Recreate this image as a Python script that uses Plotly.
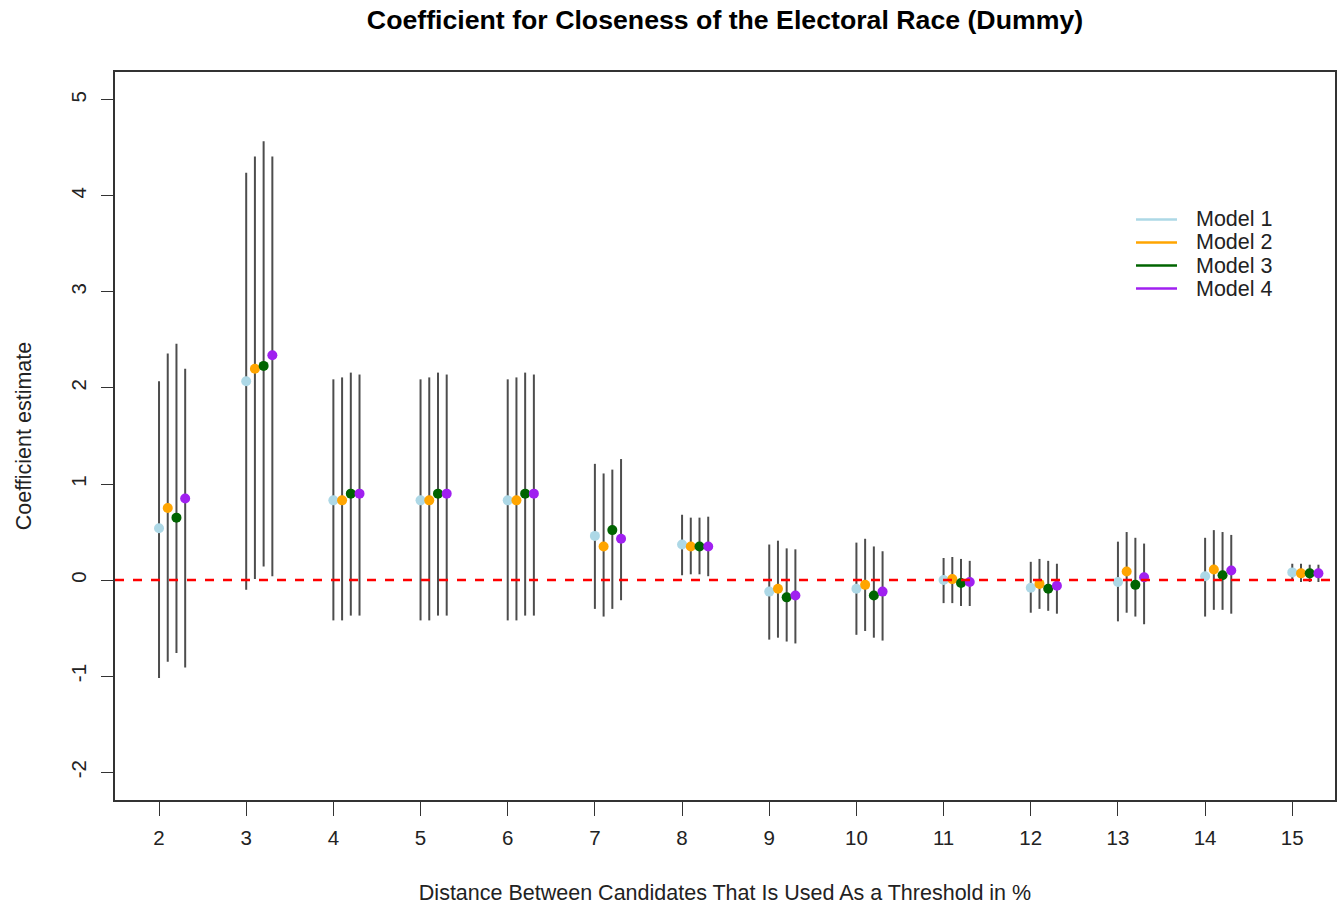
import plotly.graph_objects as go

thresholds = [2, 3, 4, 5, 6, 7, 8, 9, 10, 11, 12, 13, 14, 15]
model_names = ["Model 1", "Model 2", "Model 3", "Model 4"]
model_colors = ["#ADD8E6", "#FFA500", "#006400", "#A020F0"]
offsets = [0.0, 0.1, 0.2, 0.3]

est_m1 = [0.54, 2.07, 0.83, 0.83, 0.83, 0.46, 0.37, -0.12, -0.09, 0.00, -0.08, -0.02, 0.04, 0.08]
lo_m1 = [-1.02, -0.10, -0.42, -0.42, -0.42, -0.30, 0.05, -0.62, -0.57, -0.24, -0.34, -0.43, -0.38, 0.00]
hi_m1 = [2.07, 4.24, 2.09, 2.09, 2.09, 1.21, 0.68, 0.37, 0.39, 0.23, 0.19, 0.40, 0.44, 0.17]

est_m2 = [0.75, 2.20, 0.83, 0.83, 0.83, 0.35, 0.35, -0.09, -0.05, 0.01, -0.04, 0.09, 0.11, 0.07]
lo_m2 = [-0.85, 0.01, -0.42, -0.42, -0.42, -0.38, 0.06, -0.60, -0.53, -0.24, -0.30, -0.34, -0.31, -0.02]
hi_m2 = [2.36, 4.41, 2.11, 2.11, 2.11, 1.11, 0.65, 0.41, 0.43, 0.24, 0.22, 0.50, 0.52, 0.17]

est_m3 = [0.65, 2.23, 0.90, 0.90, 0.90, 0.52, 0.35, -0.18, -0.16, -0.03, -0.09, -0.05, 0.05, 0.07]
lo_m3 = [-0.76, 0.14, -0.37, -0.37, -0.37, -0.30, 0.06, -0.64, -0.60, -0.27, -0.32, -0.38, -0.31, -0.02]
hi_m3 = [2.46, 4.57, 2.16, 2.16, 2.16, 1.15, 0.65, 0.33, 0.35, 0.22, 0.20, 0.44, 0.50, 0.16]

est_m4 = [0.85, 2.34, 0.90, 0.90, 0.90, 0.43, 0.35, -0.16, -0.12, -0.02, -0.06, 0.03, 0.10, 0.07]
lo_m4 = [-0.91, 0.04, -0.37, -0.37, -0.37, -0.21, 0.04, -0.66, -0.63, -0.27, -0.35, -0.46, -0.35, -0.02]
hi_m4 = [2.20, 4.41, 2.14, 2.14, 2.14, 1.26, 0.66, 0.32, 0.30, 0.20, 0.17, 0.38, 0.47, 0.16]

estimates = [est_m1, est_m2, est_m3, est_m4]
lowers = [lo_m1, lo_m2, lo_m3, lo_m4]
uppers = [hi_m1, hi_m2, hi_m3, hi_m4]

FONT = "Liberation Sans, Arial, sans-serif"
TXT = "#222222"

# body margin is removed below, so the figure fills the 1343x909 window;
# the plot box sits at page x 115..1335, y 72..800
W, H = 1343, 909
PL, PT, PR, PB = 115, 72, 1335, 800
L, T, R, B = PL, PT, W - PR, H - PB

def px_to_paper(xp, yp):
    return (xp - PL) / (PR - PL), (PB - yp) / (PB - PT)

fig = go.Figure()

for name, col, off, est, lo, hi in zip(model_names, model_colors, offsets, estimates, lowers, uppers):
    xs = [t + off for t in thresholds]
    fig.add_trace(go.Scatter(
        x=xs, y=est, mode="markers", showlegend=False, name=name,
        marker=dict(color=col, size=10, line=dict(width=0)),
        error_y=dict(type="data", symmetric=False,
                     array=[h - e for h, e in zip(hi, est)],
                     arrayminus=[e - l for e, l in zip(est, lo)],
                     color="#4d4d4d", thickness=2, width=0),
    ))

fig.add_shape(type="line", xref="paper", yref="y", x0=0, x1=1, y0=0, y1=0,
              line=dict(color="red", width=2.5, dash="dash"))

# legend (line keys + labels), top-right inside the plot
legend_rows = [219.5, 242.5, 265.5, 288.5]
for name, col, yrow in zip(model_names, model_colors, legend_rows):
    x0, y0 = px_to_paper(1136, yrow)
    x1, _ = px_to_paper(1177, yrow)
    fig.add_shape(type="line", xref="paper", yref="paper", x0=x0, x1=x1, y0=y0, y1=y0,
                  line=dict(color=col, width=2.5))
    tx, _ = px_to_paper(1194, yrow)
    fig.add_annotation(xref="paper", yref="paper", x=tx, y=y0, text=name,
                       showarrow=False, xanchor="left", yanchor="middle",
                       font=dict(family=FONT, size=21.5, color=TXT))

fig.update_layout(
    width=W, height=H,
    paper_bgcolor="white", plot_bgcolor="white",
    margin=dict(l=L, r=R, t=T, b=B, autoexpand=False),
    showlegend=False,
    title=dict(text="<b>Coefficient for Closeness of the Electoral Race (Dummy)</b>",
               xref="paper", x=0.5, xanchor="center", y=1 - 20 / H, yanchor="middle",
               font=dict(family=FONT, size=26.7, color="black")),
    font=dict(family=FONT, size=21, color=TXT),
    xaxis=dict(range=[1.495, 15.49], tickvals=thresholds,
               ticktext=[str(t) for t in thresholds], automargin=False,
               showgrid=False, zeroline=False, showline=True, mirror=True,
               linecolor="#333333", linewidth=1.5,
               ticks="outside", ticklen=14, tickcolor="#333333", tickwidth=1.2,
               ticklabelstandoff=5,
               tickfont=dict(family=FONT, size=20.5, color=TXT),
               title=dict(text="Distance Between Candidates That Is Used As a Threshold in %",
                          standoff=37, font=dict(family=FONT, size=21.5, color=TXT))),
    yaxis=dict(range=[-2.29, 5.29], tickvals=[-2, -1, 0, 1, 2, 3, 4, 5],
               ticktext=["-2", "-1", "0", "1", "2", "3", "4", "5"], automargin=False,
               showgrid=False, zeroline=False, showline=True, mirror=True,
               linecolor="#333333", linewidth=1.5,
               ticks="outside", ticklen=12, tickcolor="#333333", tickwidth=1.2,
               tickangle=-90, ticklabelstandoff=7,
               tickfont=dict(family=FONT, size=20.5, color=TXT),
               title=dict(text="Coefficient estimate", standoff=30,
                          font=dict(family=FONT, size=21.5, color=TXT))),
)

fig.write_html("out.html",
               config={"displayModeBar": False},
               post_script="document.body.style.margin='0';document.body.style.overflow='hidden';")
